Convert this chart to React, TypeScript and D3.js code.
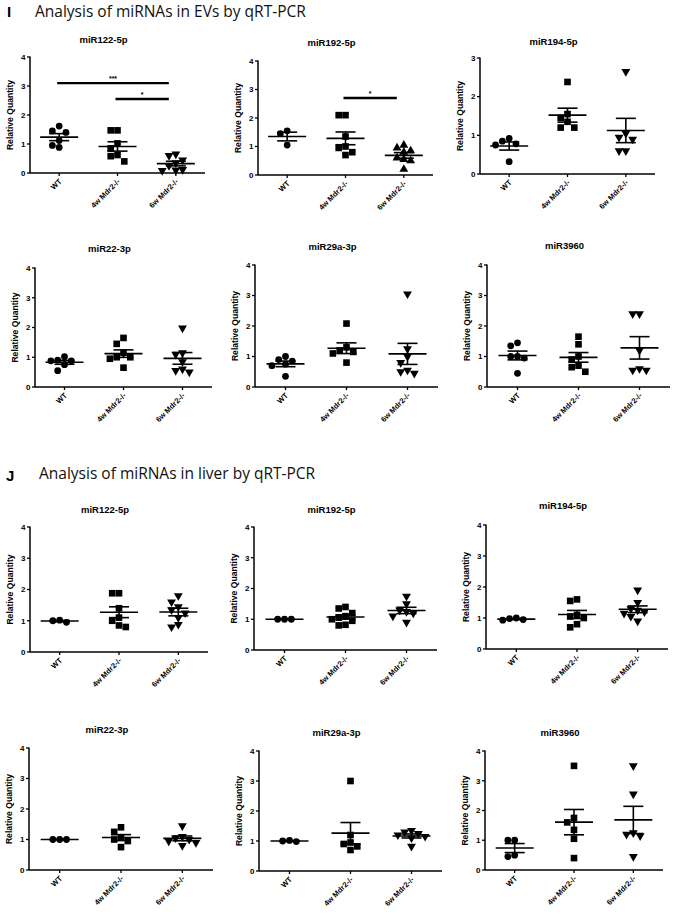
import React from "react";
import * as d3 from "d3";

const categories = ["WT", "4w Mdr2-/-", "6w Mdr2-/-"];
const ticks4 = [0, 1, 2, 3, 4];
const ticks3 = [0, 1, 2, 3];

// ---- I: EVs ----
const ev122WT = [1.62, 1.45, 1.4, 1.12, 0.95, 0.88];
const ev122W4 = [1.47, 1.47, 1.02, 0.85, 0.62, 0.58, 0.4];
const ev122W6 = [0.65, 0.6, 0.45, 0.35, 0.25, 0.12, 0.1, 0.08];
const ev192WT = [1.45, 1.55, 1.05];
const ev192W4 = [2.1, 2.1, 1.35, 1.0, 0.95, 0.8, 0.7];
const ev192W6 = [1.05, 0.95, 0.85, 0.8, 0.6, 0.55, 0.5, 0.2];
const ev194WT = [0.92, 0.85, 0.78, 0.75, 0.32];
const ev194W4 = [2.38, 1.55, 1.45, 1.35, 1.2, 1.2];
const ev194W6 = [2.65, 1.05, 0.95, 0.9, 0.6, 0.6];
const ev22WT = [1.02, 0.9, 0.88, 0.88, 0.75, 0.55];
const ev22W4 = [1.65, 1.45, 1.15, 1.0, 1.0, 0.95, 0.65];
const ev22W6 = [1.98, 1.15, 1.1, 0.85, 0.6, 0.55, 0.5];
const ev29WT = [1.0, 0.9, 0.85, 0.75, 0.7, 0.35];
const ev29W4 = [2.08, 1.3, 1.2, 1.15, 1.1, 0.8];
const ev29W6 = [3.05, 1.25, 1.0, 0.8, 0.55, 0.5, 0.45];
const ev3960WT = [1.45, 1.35, 1.0, 1.0, 0.95, 0.45];
const ev3960W4 = [1.65, 1.4, 1.0, 0.9, 0.7, 0.65, 0.5];
const ev3960W6 = [2.4, 2.4, 1.2, 0.6, 0.55, 0.55];

// ---- J: liver ----
const lv122WT = [1.02, 0.95, 1.0];
const lv122W4 = [1.88, 1.88, 1.4, 1.1, 1.0, 0.85, 0.8];
const lv122W6 = [1.8, 1.6, 1.45, 1.35, 1.25, 1.1, 0.88, 0.8];
const lv192WT = [1.0, 1.0, 1.0];
const lv192W4 = [1.4, 1.35, 1.2, 1.1, 1.05, 1.0, 0.95, 0.82, 0.8];
const lv192W6 = [1.75, 1.5, 1.3, 1.25, 1.2, 1.1, 0.9];
const lv194WT = [1.0, 0.98, 0.95, 0.93];
const lv194W4 = [1.6, 1.55, 1.1, 1.05, 1.0, 0.8, 0.7];
const lv194W6 = [1.9, 1.5, 1.3, 1.25, 1.2, 1.15, 1.05, 0.9];
const lv22WT = [1.0, 1.0, 1.0];
const lv22W4 = [1.4, 1.25, 1.05, 1.0, 0.95, 0.75];
const lv22W6 = [1.45, 1.1, 1.05, 1.0, 0.95, 0.9, 0.8];
const lv29WT = [1.02, 0.98, 1.0];
const lv29W4 = [3.0, 1.2, 0.95, 0.9, 0.82, 0.7];
const lv29W6 = [1.35, 1.3, 1.25, 1.2, 1.15, 1.1, 0.82];
const lv3960WT = [1.0, 1.0, 0.5, 0.45];
const lv3960W4 = [3.5, 1.75, 1.6, 1.35, 1.05, 0.4];
const lv3960W6 = [3.5, 2.55, 1.25, 1.2, 1.15, 0.45];

const ev122Sig = [
  { from: 0, to: 2, y: 3.1, label: "***" },
  { from: 1, to: 2, y: 2.55, label: "*" },
];
const ev192Sig = [{ from: 1, to: 2, y: 2.7, label: "*" }];

type Sig = { from: number; to: number; y: number; label: string };
type PanelSpec = {
  title: string;
  groups: number[][];
  ticks: number[];
  sig?: Sig[];
  up6?: boolean;
  x0: number;
  x1: number;
  yTop: number;
  yBot: number;
  titleY: number;
};

const panels: PanelSpec[] = [
  { title: "miR122-5p", groups: [ev122WT, ev122W4, ev122W6], ticks: ticks4, sig: ev122Sig, x0: 30, x1: 205, yTop: 57, yBot: 173, titleY: 43 },
  { title: "miR192-5p", groups: [ev192WT, ev192W4, ev192W6], ticks: ticks4, sig: ev192Sig, up6: true, x0: 258, x1: 433, yTop: 61, yBot: 175, titleY: 46 },
  { title: "miR194-5p", groups: [ev194WT, ev194W4, ev194W6], ticks: ticks3, x0: 480, x1: 655, yTop: 58, yBot: 174, titleY: 45 },
  { title: "miR22-3p", groups: [ev22WT, ev22W4, ev22W6], ticks: ticks4, x0: 35, x1: 212, yTop: 268, yBot: 387, titleY: 252 },
  { title: "miR29a-3p", groups: [ev29WT, ev29W4, ev29W6], ticks: ticks4, x0: 255, x1: 438, yTop: 265, yBot: 387, titleY: 250 },
  { title: "miR3960", groups: [ev3960WT, ev3960W4, ev3960W6], ticks: ticks4, x0: 487, x1: 670, yTop: 265, yBot: 387, titleY: 249 },
  { title: "miR122-5p", groups: [lv122WT, lv122W4, lv122W6], ticks: ticks4, x0: 30, x1: 208, yTop: 527, yBot: 652, titleY: 513 },
  { title: "miR192-5p", groups: [lv192WT, lv192W4, lv192W6], ticks: ticks4, x0: 254, x1: 437, yTop: 527, yBot: 650, titleY: 513 },
  { title: "miR194-5p", groups: [lv194WT, lv194W4, lv194W6], ticks: ticks4, x0: 486, x1: 668, yTop: 525, yBot: 649, titleY: 509 },
  { title: "miR22-3p", groups: [lv22WT, lv22W4, lv22W6], ticks: ticks4, x0: 29, x1: 213, yTop: 748, yBot: 870, titleY: 733 },
  { title: "miR29a-3p", groups: [lv29WT, lv29W4, lv29W6], ticks: ticks4, x0: 259, x1: 442, yTop: 751, yBot: 871, titleY: 736 },
  { title: "miR3960", groups: [lv3960WT, lv3960W4, lv3960W6], ticks: ticks4, x0: 485, x1: 663, yTop: 751, yBot: 870, titleY: 736 },
];

const FONT = "'Liberation Sans', Arial, sans-serif";

function swarm(vals: number[], y: (v: number) => number, d: number) {
  const placed: { px: number; py: number; v: number }[] = [];
  const order = vals.map((v, i) => ({ v, i })).sort((a, b) => b.v - a.v);
  const res: number[] = new Array(vals.length).fill(0);
  for (const o of order) {
    const py = y(o.v);
    const cands = [0];
    for (let k = 1; k < 8; k++) cands.push(-k * d, k * d);
    for (const c of cands) {
      if (placed.every((p) => Math.hypot(p.px - c, p.py - py) >= d)) {
        placed.push({ px: c, py, v: o.v });
        res[o.i] = c;
        break;
      }
    }
  }
  return res;
}

const circleP = d3.symbol().type(d3.symbolCircle).size(36)();
const squareP = d3.symbol().type(d3.symbolSquare).size(44)();
const triP = d3.symbol().type(d3.symbolTriangle).size(34)();

function Panel({ p }: { p: PanelSpec }) {
  const max = p.ticks[p.ticks.length - 1];
  const x = d3.scalePoint<string>().domain(categories).range([p.x0, p.x1]).padding(0.5);
  const y = d3.scaleLinear().domain([0, max]).range([p.yBot, p.yTop]);
  const titleX = (p.x0 + p.x1) / 2 - 14;
  return (
    <g>
      <text x={titleX} y={p.titleY} textAnchor="middle" fontFamily={FONT} fontWeight="bold" fontSize={9.5}>
        {p.title}
      </text>
      <text
        transform={`translate(${p.x0 - 17},${(p.yTop + p.yBot) / 2}) rotate(-90)`}
        textAnchor="middle"
        fontFamily={FONT}
        fontWeight="bold"
        fontSize={8.6}
      >
        Relative Quantity
      </text>
      {/* axes */}
      <line x1={p.x0} x2={p.x0} y1={p.yTop - 0.5} y2={p.yBot} stroke="#000" strokeWidth={1.5} />
      <line x1={p.x0} x2={p.x1} y1={p.yBot} y2={p.yBot} stroke="#000" strokeWidth={1.5} />
      {p.ticks.map((t) => (
        <g key={t}>
          <line x1={p.x0 - 3} x2={p.x0} y1={y(t)} y2={y(t)} stroke="#000" strokeWidth={1.3} />
          <text x={p.x0 - 4.5} y={y(t)} dy="0.35em" textAnchor="end" fontFamily={FONT} fontWeight="bold" fontSize={8}>
            {t}
          </text>
        </g>
      ))}
      {categories.map((c) => (
        <g key={c}>
          <line x1={x(c)} x2={x(c)} y1={p.yBot} y2={p.yBot + 3} stroke="#000" strokeWidth={1.3} />
          <text
            transform={`translate(${(x(c) as number) + 3},${p.yBot + 9}) rotate(-45)`}
            textAnchor="end"
            fontFamily={FONT}
            fontWeight="bold"
            fontSize={7.6}
          >
            {c}
          </text>
        </g>
      ))}
      {/* data */}
      {p.groups.map((vals, gi) => {
        const cx = x(categories[gi]) as number;
        const offs = swarm(vals, y, 6.8);
        const mean = d3.mean(vals) as number;
        const sem = (d3.deviation(vals) as number) / Math.sqrt(vals.length);
        const path = gi === 0 ? circleP : gi === 1 ? squareP : triP;
        const rot = gi === 2 && !p.up6 ? 180 : 0;
        return (
          <g key={gi}>
            {vals.map((v, i) => (
              <path
                key={i}
                d={path as string}
                transform={`translate(${cx + offs[i]},${y(v)}) rotate(${rot})`}
                fill="#000"
              />
            ))}
            <line x1={cx - 19} x2={cx + 19} y1={y(mean)} y2={y(mean)} stroke="#000" strokeWidth={1.6} />
            <line x1={cx - 10} x2={cx + 10} y1={y(mean + sem)} y2={y(mean + sem)} stroke="#000" strokeWidth={1.6} />
            <line x1={cx - 10} x2={cx + 10} y1={y(mean - sem)} y2={y(mean - sem)} stroke="#000" strokeWidth={1.6} />
            <line x1={cx} x2={cx} y1={y(mean + sem)} y2={y(mean - sem)} stroke="#000" strokeWidth={1.6} />
          </g>
        );
      })}
      {(p.sig || []).map((s, i) => {
        const a = (x(categories[s.from]) as number) - 2;
        const b = (x(categories[s.to]) as number) - 7;
        return (
          <g key={i}>
            <line x1={a} x2={b} y1={y(s.y)} y2={y(s.y)} stroke="#000" strokeWidth={2.4} />
            <text x={(a + b) / 2} y={y(s.y) - 2} textAnchor="middle" fontFamily={FONT} fontWeight="bold" fontSize={7}>
              {s.label}
            </text>
          </g>
        );
      })}
    </g>
  );
}

export default function App() {
  return (
    <svg
      width={678}
      height={916}
      viewBox="0 0 678 916"
      style={{ position: "absolute", left: 0, top: 0, display: "block", background: "#fff" }}
    >
      <rect width={678} height={916} fill="#fff" />
      <text x={7} y={17} fontFamily={FONT} fontWeight="bold" fontSize={15}>I</text>
      <text x={35} y={17} fontFamily="'Open Sans', sans-serif" fontSize={15.5} fill="#111">
        Analysis of miRNAs in EVs by qRT-PCR
      </text>
      <text x={6} y={481} fontFamily={FONT} fontWeight="bold" fontSize={15}>J</text>
      <text x={39} y={479} fontFamily="'Open Sans', sans-serif" fontSize={15.5} fill="#111">
        Analysis of miRNAs in liver by qRT-PCR
      </text>
      {panels.map((p, i) => (
        <Panel key={i} p={p} />
      ))}
    </svg>
  );
}
